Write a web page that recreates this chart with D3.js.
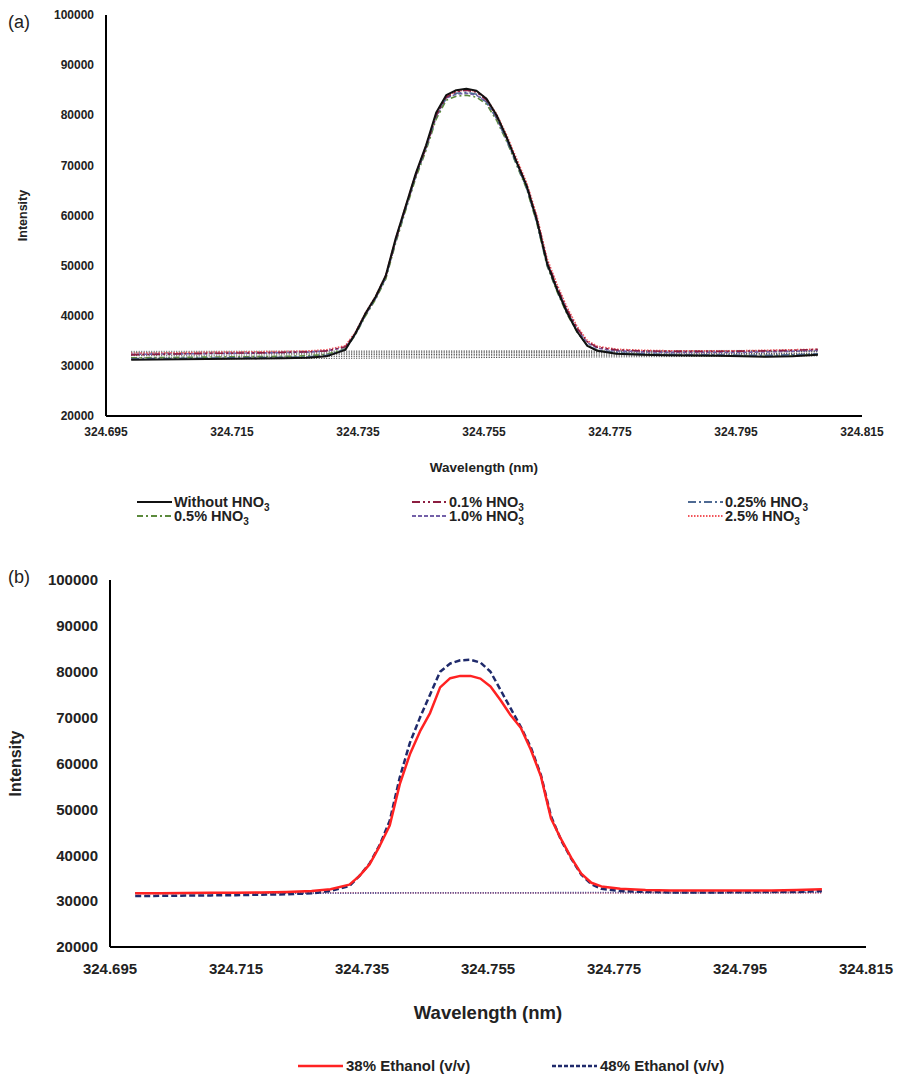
<!DOCTYPE html>
<html>
<head>
<meta charset="utf-8">
<script src="https://cdn.jsdelivr.net/npm/d3@7"></script>
<style>
  body { margin: 0; background: #fff; }
  text { font-family: "Liberation Sans", Arial, sans-serif; }
</style>
</head>
<body>
<div id="chart"></div>
<script>
var w = 899;
var h = 1076;

// wavelength grid (nm), shared by both panels
var wavelengths = [324.699, 324.703, 324.707, 324.711, 324.715, 324.719, 324.723, 324.727, 324.730, 324.733,
    324.7346, 324.7362, 324.7378, 324.7394, 324.7410, 324.7426, 324.7442, 324.7458, 324.7474, 324.7490,
    324.7506, 324.7522, 324.7538, 324.7554, 324.7570, 324.7586, 324.7602, 324.7618, 324.7634, 324.7650,
    324.7666, 324.7682, 324.7698, 324.7714, 324.7730,
    324.776, 324.780, 324.784, 324.788, 324.792, 324.796, 324.800, 324.804, 324.808];

var xTicks = [324.695, 324.715, 324.735, 324.755, 324.775, 324.795, 324.815];
var yTicks = [20000, 30000, 40000, 50000, 60000, 70000, 80000, 90000, 100000];

// panel (a): HNO3 series
var withoutHNO3 = [31200, 31250, 31300, 31350, 31400, 31450, 31500, 31600, 31900, 33200,
    36500, 40500, 43800, 48000, 55500, 62000, 68500, 74000, 80500, 84000,
    85000, 85300, 84900, 83300, 80000, 75600, 70600, 65800, 59000, 50500,
    45200, 40600, 36800, 34000, 33000,
    32400, 32200, 32100, 32050, 32000, 31900, 31800, 31900, 32200];
var hno3_01 = [32200, 32300, 32400, 32500, 32550, 32600, 32700, 32800, 33000, 33800,
    36600, 40400, 43700, 47800, 55200, 61800, 68200, 73600, 80000, 83600,
    84700, 85000, 84600, 83000, 79800, 75500, 70800, 66000, 59500, 51000,
    45800, 41200, 37500, 34800, 33700,
    33200, 33000, 32900, 32900, 32900, 32950, 33000, 33100, 33300];
var hno3_025 = [31400, 31450, 31500, 31550, 31600, 31650, 31700, 31800, 32100, 33300,
    36300, 40200, 43500, 47600, 55000, 61500, 68000, 73500, 79800, 83500,
    84400, 84600, 84200, 82600, 79400, 75000, 70200, 65400, 58600, 50200,
    45000, 40500, 36800, 34100, 33100,
    32600, 32400, 32300, 32200, 32200, 32100, 32100, 32200, 32400];
var hno3_05 = [31600, 31650, 31700, 31750, 31800, 31850, 31900, 32000, 32300, 33400,
    36200, 40000, 43300, 47300, 54600, 61200, 67600, 73000, 79200, 83000,
    83800, 84000, 83600, 82200, 79000, 74800, 70000, 65200, 58400, 50000,
    44800, 40300, 36700, 34100, 33100,
    32500, 32300, 32200, 32100, 32100, 32000, 31900, 32000, 32300];
var hno3_10 = [32300, 32350, 32400, 32450, 32500, 32550, 32650, 32750, 33000, 33700,
    36400, 40200, 43500, 47600, 55000, 61600, 68000, 73400, 79600, 83400,
    84200, 84400, 84000, 82600, 79400, 75200, 70500, 65600, 59000, 50600,
    45500, 41000, 37300, 34600, 33500,
    33000, 32800, 32700, 32700, 32700, 32700, 32800, 32900, 33100];
var hno3_25 = [32500, 32550, 32600, 32700, 32750, 32800, 32850, 32950, 33200, 34000,
    36700, 40600, 43900, 48000, 55400, 62000, 68400, 73800, 80200, 83800,
    84800, 85100, 84800, 83300, 80200, 76000, 71200, 66400, 59800, 51400,
    46200, 41600, 37800, 35000, 33900,
    33300, 33100, 33000, 33000, 33000, 33000, 33100, 33200, 33300];
// background (baseline) dotted lines in panel (a): [start, end]
var bgA = [[31300, 32000], [31700, 32300], [32100, 32500], [32400, 32800], [32700, 32900], [32900, 33100]];

// panel (b): ethanol series
var ethanol38 = [31700, 31700, 31750, 31800, 31850, 31900, 32000, 32200, 32600, 33600,
    35500, 38000, 42000, 46500, 55500, 62000, 67000, 71000, 76600, 78600,
    79100, 79100, 78500, 76800, 73800, 70500, 67800, 63000, 57200, 48000,
    43500, 39500, 36000, 34000, 33200,
    32700, 32400, 32300, 32300, 32300, 32300, 32300, 32400, 32600];
var ethanol48 = [31100, 31150, 31200, 31250, 31300, 31400, 31500, 31700, 32200, 33300,
    35500, 38200, 42200, 47500, 57000, 64500, 70000, 75000, 80000, 81800,
    82500, 82600, 82000, 80000, 76000, 72000, 68000, 63500, 57500, 48500,
    43300, 39300, 35800, 33700, 32700,
    32200, 32000, 31900, 31900, 31900, 31950, 32000, 32000, 32200];
var bgB = [[31800, 31800], [31700, 31900]];

var seriesA = [
    { name: "Without HNO", values: withoutHNO3, color: "#111111", dash: null, width: 2 },
    { name: "0.1% HNO", values: hno3_01, color: "#8c1d40", dash: "8,3,2,3,2,3", width: 1.6 },
    { name: "0.25% HNO", values: hno3_025, color: "#4e6a93", dash: "8,3,2,3", width: 1.6 },
    { name: "0.5% HNO", values: hno3_05, color: "#5b8a3c", dash: "6,3,2,3", width: 1.6 },
    { name: "1.0% HNO", values: hno3_10, color: "#7360a8", dash: "4,2", width: 1.6 },
    { name: "2.5% HNO", values: hno3_25, color: "#f2555a", dash: "1.5,1.5", width: 1.8 }
];
var seriesB = [
    { name: "38% Ethanol (v/v)", values: ethanol38, color: "#ff2222", dash: null, width: 2.5, bgColor: "#ff5555" },
    { name: "48% Ethanol (v/v)", values: ethanol48, color: "#1f2a6b", dash: "6,3", width: 2.5, bgColor: "#3a4a9a" }
];

var svg = d3.select("#chart")
    .append("svg")
    .attr("width", w)
    .attr("height", h);

function drawPanel(cfg) {
    var x = d3.scaleLinear().domain([324.695, 324.815]).range([cfg.left, cfg.right]);
    var y = d3.scaleLinear().domain([20000, 100000]).range([cfg.bottom, cfg.top]);
    var g = svg.append("g");

    var line = d3.line()
        .x(function(d) { return x(d[0]); })
        .y(function(d) { return y(d[1]); });

    // background dotted lines
    cfg.bg.forEach(function(b, i) {
        g.append("path")
            .attr("d", line([[wavelengths[0], b[0]], [wavelengths[wavelengths.length - 1], b[1]]]))
            .attr("fill", "none")
            .attr("stroke", cfg.bgColors[i])
            .attr("stroke-width", cfg.bgWidth)
            .attr("stroke-dasharray", "1,1.5");
    });

    // draw series (last first, so solid black sits on top in panel a)
    cfg.series.slice().reverse().forEach(function(s) {
        var pts = wavelengths.map(function(wl, i) { return [wl, s.values[i]]; });
        g.append("path")
            .attr("d", line(pts))
            .attr("fill", "none")
            .attr("stroke", s.color)
            .attr("stroke-width", s.width)
            .attr("stroke-linejoin", "round")
            .attr("stroke-dasharray", s.dash);
    });

    // axes lines
    g.append("line")
        .attr("x1", cfg.left).attr("x2", cfg.left)
        .attr("y1", cfg.top).attr("y2", cfg.bottom)
        .attr("stroke", "#000").attr("stroke-width", 2);
    g.append("line")
        .attr("x1", cfg.left).attr("x2", cfg.right)
        .attr("y1", cfg.bottom).attr("y2", cfg.bottom)
        .attr("stroke", "#000").attr("stroke-width", 2);

    g.selectAll(".ytick")
        .data(yTicks)
        .enter()
        .append("text")
        .attr("x", cfg.left - 12)
        .attr("y", function(d) { return y(d); })
        .attr("dy", "0.35em")
        .attr("text-anchor", "end")
        .attr("font-size", cfg.tickSize)
        .attr("font-weight", "bold")
        .attr("fill", "#222")
        .text(function(d) { return d; });

    g.selectAll(".xtick")
        .data(xTicks)
        .enter()
        .append("text")
        .attr("x", function(d) { return x(d); })
        .attr("y", cfg.bottom + cfg.xTickGap)
        .attr("text-anchor", "middle")
        .attr("font-size", cfg.tickSize)
        .attr("font-weight", "bold")
        .attr("fill", "#222")
        .text(function(d) { return d3.format(".3f")(d); });

    g.append("text")
        .attr("transform", "translate(" + cfg.yLabelX + "," + ((cfg.top + cfg.bottom) / 2) + ") rotate(-90)")
        .attr("text-anchor", "middle")
        .attr("dy", "0.35em")
        .attr("font-size", cfg.yLabelSize)
        .attr("font-weight", "bold")
        .attr("fill", "#222")
        .text("Intensity");

    g.append("text")
        .attr("x", (cfg.left + cfg.right) / 2)
        .attr("y", cfg.xLabelY)
        .attr("text-anchor", "middle")
        .attr("font-size", cfg.xLabelSize)
        .attr("font-weight", "bold")
        .attr("fill", "#222")
        .text("Wavelength (nm)");

    g.append("text")
        .attr("x", 8)
        .attr("y", cfg.tagY)
        .attr("font-size", 18)
        .attr("fill", "#222")
        .text(cfg.tag);

    return g;
}

// panel (a)
var gA = drawPanel({
    left: 106, right: 862, top: 15, bottom: 416,
    series: seriesA, bg: bgA,
    bgColors: ["#222", "#333", "#222", "#444", "#333", "#555"], bgWidth: 1,
    tickSize: 12, xTickGap: 20, yLabelX: 23, yLabelSize: 12.5,
    xLabelY: 472, xLabelSize: 13.5, tag: "(a)", tagY: 28
});

// panel (b)
var gB = drawPanel({
    left: 110, right: 866, top: 580, bottom: 947,
    series: seriesB, bg: bgB,
    bgColors: [seriesB[0].bgColor, seriesB[1].bgColor], bgWidth: 1.8,
    tickSize: 15, xTickGap: 27, yLabelX: 15, yLabelSize: 16,
    xLabelY: 1019, xLabelSize: 18.5, tag: "(b)", tagY: 583
});

// legend (a)
var legA = [
    { s: seriesA[0], x: 137, y: 507 },
    { s: seriesA[1], x: 412, y: 507 },
    { s: seriesA[2], x: 688, y: 507 },
    { s: seriesA[3], x: 137, y: 521 },
    { s: seriesA[4], x: 412, y: 521 },
    { s: seriesA[5], x: 688, y: 521 }
];
legA.forEach(function(d) {
    svg.append("line")
        .attr("x1", d.x).attr("x2", d.x + 35)
        .attr("y1", d.y - 5).attr("y2", d.y - 5)
        .attr("stroke", d.s.color)
        .attr("stroke-width", 2)
        .attr("stroke-dasharray", d.s.dash);
    var t = svg.append("text")
        .attr("x", d.x + 37)
        .attr("y", d.y)
        .attr("font-size", 14.5)
        .attr("font-weight", "bold")
        .attr("fill", "#222")
        .text(d.s.name);
    t.append("tspan")
        .attr("font-size", 10)
        .attr("dy", 4)
        .text("3");
});

// legend (b)
var legB = [
    { s: seriesB[0], x: 298 },
    { s: seriesB[1], x: 552 }
];
legB.forEach(function(d) {
    svg.append("line")
        .attr("x1", d.x).attr("x2", d.x + 45)
        .attr("y1", 1066).attr("y2", 1066)
        .attr("stroke", d.s.color)
        .attr("stroke-width", 2.5)
        .attr("stroke-dasharray", d.s.dash ? "4,2" : null);
    svg.append("text")
        .attr("x", d.x + 48)
        .attr("y", 1071)
        .attr("font-size", 15)
        .attr("font-weight", "bold")
        .attr("fill", "#222")
        .text(d.s.name);
});
</script>
</body>
</html>
